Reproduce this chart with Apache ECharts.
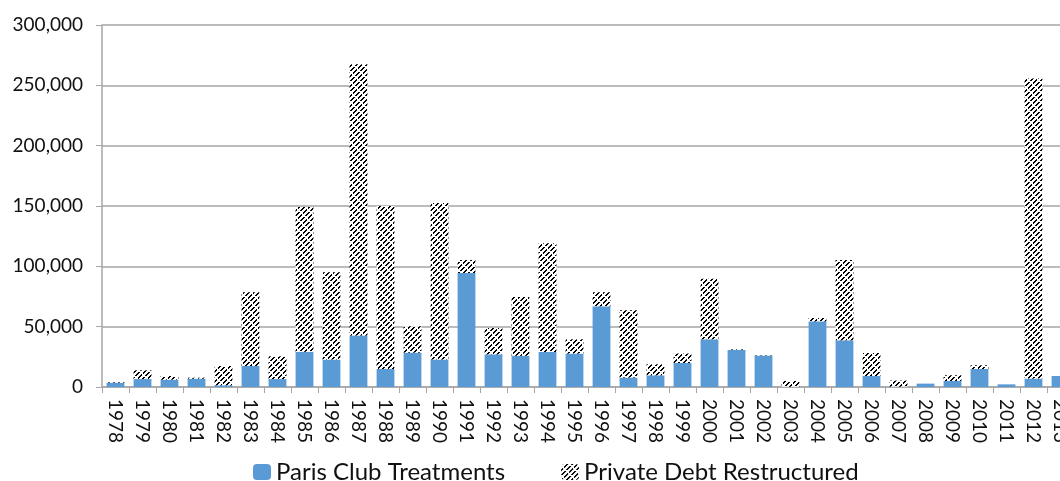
<!DOCTYPE html>
<html><head><meta charset="utf-8">
<script src="https://cdn.jsdelivr.net/npm/echarts@6/dist/echarts.min.js"></script>
<style>html,body{margin:0;padding:0;background:#fff;overflow:hidden;width:1060px;height:481px}#c{width:1074px;height:481px}</style>
</head><body><div id="c"></div>
<script>
const years = ['1978','1979','1980','1981','1982','1983','1984','1985','1986','1987','1988','1989','1990','1991','1992','1993','1994','1995','1996','1997','1998','1999','2000','2001','2002','2003','2004','2005','2006','2007','2008','2009','2010','2011','2012','2013'];
const parisClub = [3500,6600,6100,6900,1400,17400,6600,29300,22700,42600,14900,28500,22700,94500,27100,26000,29000,27700,66900,7800,9700,19900,39500,30700,26000,200,54400,38700,9100,300,2800,5000,14900,2200,7000,9100];
const privateDebt = [500,7200,3000,800,16000,61100,18800,119900,72300,224800,135100,21800,129800,10700,21800,48600,90100,11800,11600,55800,9100,7800,50300,500,300,4800,2800,66500,19100,5000,0,4700,3100,0,248600,0];
const yTicks = [0,50000,100000,150000,200000,250000,300000];

function hatch(){
  const n=10, cv=document.createElement('canvas'); cv.width=n; cv.height=n;
  const ctx=cv.getContext('2d'); const img=ctx.createImageData(n,n);
  for(let y=0;y<n;y++)for(let x=0;x<n;x++){
    const s=((x+y)%5+5)%5; const t=(((x-y)%10)+10)%10;
    const black = s<2 && t!==8 && t!==9;
    const i=(y*n+x)*4; const v=black?0:255;
    img.data[i]=v;img.data[i+1]=v;img.data[i+2]=v;img.data[i+3]=255;
  }
  ctx.putImageData(img,0,0); return cv;
}
const font='Lato';
const chart=echarts.init(document.getElementById('c'),null,{renderer:'canvas'});
chart.setOption({
  animation:false,
  textStyle:{fontFamily:font},
  grid:{left:102,right:0,top:25,bottom:94,containLabel:false},
  legend:{left:248,top:455,itemWidth:18,itemHeight:16,itemGap:56,
    textStyle:{fontFamily:font,fontSize:24,color:'#111'},
    data:['Paris Club Treatments','Private Debt Restructured']},
  xAxis:{type:'category',data:years,
    axisLine:{lineStyle:{color:'#a6a6a6',width:1.5}},
    axisTick:{show:true,interval:0,length:6,lineStyle:{color:'#a6a6a6'}},
    axisLabel:{interval:0,rotate:-90,margin:12,fontFamily:font,fontSize:19,color:'#111'}},
  yAxis:{type:'value',min:0,max:300000,interval:50000,
    axisLine:{show:true,lineStyle:{color:'#a6a6a6',width:1.5}},
    axisTick:{show:true,length:6,lineStyle:{color:'#a6a6a6'}},
    splitLine:{lineStyle:{color:'#a6a6a6',width:1.5}},
    axisLabel:{margin:19,fontFamily:font,fontSize:19,color:'#111',
      formatter:v=>yTicks.includes(v)?v.toLocaleString('en-US'):''}},
  series:[
    {name:'Paris Club Treatments',type:'bar',stack:'t',data:parisClub,barCategoryGap:'34%',
      itemStyle:{color:'#5b9bd5'}},
    {name:'Private Debt Restructured',type:'bar',stack:'t',data:privateDebt,barCategoryGap:'34%',
      itemStyle:{color:{image:hatch(),repeat:'repeat'}}}
  ]
});
</script></body></html>
